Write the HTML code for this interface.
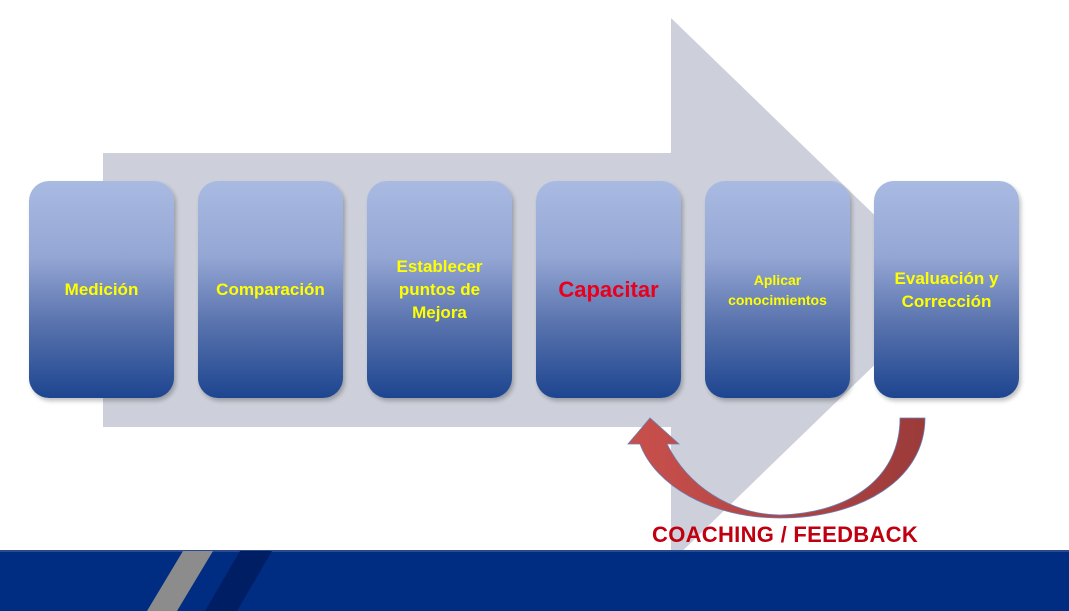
<!DOCTYPE html>
<html><head><meta charset="utf-8"><style>
body{margin:0;width:1069px;height:611px;overflow:hidden;background:#fff;position:relative;font-family:"Liberation Sans",sans-serif}
.b{position:absolute;top:181px;width:145px;height:217px;border-radius:20px;background:linear-gradient(#a9bae2 0%,#94a6d4 35%,#5a74ae 65%,#1d4590 100%);box-shadow:2px 3px 4px rgba(0,0,0,.25);display:flex;align-items:center;justify-content:center;text-align:center;color:#ffff00;font-weight:bold;font-size:17px;line-height:23px}
</style></head><body>
<svg width="1069" height="611" style="position:absolute;left:0;top:0">
<polygon points="103,153 671,153 671,18 952,290 671,562 671,427 103,427" fill="#cdd0da"/>
<rect x="0" y="551" width="1069" height="60" fill="#002c82"/>
<rect x="0" y="550" width="1069" height="2" fill="#2a4a8f"/>
<polygon points="183,551 213,551 177,611 147,611" fill="#8c8c8c"/>
<polygon points="240,551 272,551 237,611 205,611" fill="#001e63"/>
</svg>
<div class="b" style="left:29px">Medición</div>
<div class="b" style="left:198px">Comparación</div>
<div class="b" style="left:367px">Establecer<br>puntos de<br>Mejora</div>
<div class="b" style="left:536px;color:#e8001c;font-size:22px">Capacitar</div>
<div class="b" style="left:705px;font-size:14px;line-height:20px">Aplicar<br>conocimientos</div>
<div class="b" style="left:874px">Evaluación y<br>Corrección</div>
<svg width="1069" height="611" style="position:absolute;left:0;top:0">
<defs><linearGradient id="r" x1="0" x2="1"><stop offset="0" stop-color="#c9504c"/><stop offset="1" stop-color="#9b3b3a"/></linearGradient></defs>
<path d="M925,418 C925,480 860,518 780,518 C710,518 655,485 640,444 L628,444 L650,418 L679,444 L667,444 C688,486 730,514 780,515 C850,513 900,478 900,418 Z" fill="url(#r)" stroke="#6a7fb5" stroke-width="0.8"/>
</svg>
<div style="position:absolute;left:652px;top:522px;font-size:22px;font-weight:bold;color:#c00010;letter-spacing:0.3px">COACHING / FEEDBACK</div>
</body></html>
